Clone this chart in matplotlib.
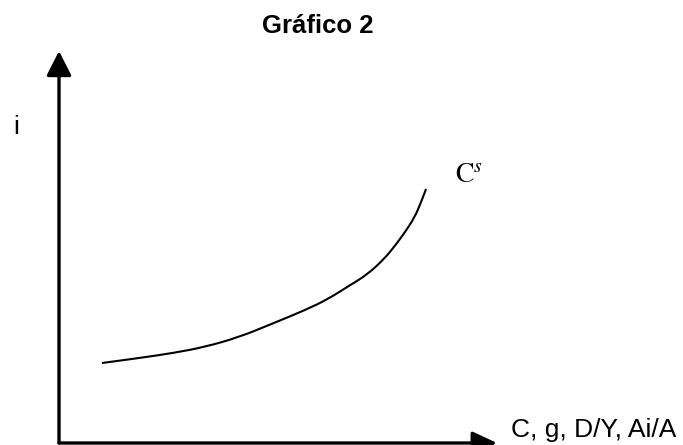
import matplotlib
matplotlib.use("Agg")
import matplotlib.pyplot as plt
from matplotlib.path import Path
from matplotlib.patches import PathPatch

plt.rcParams['font.family'] = ['Liberation Sans', 'DejaVu Sans']
plt.rcParams['mathtext.fontset'] = 'stix'

# Data (axis units 0-100)
title = "Gráfico 2"
y_label = "i"
x_label = "C, g, D/Y, Ai/A"
curve_label = r"$\mathrm{C}^{s}$"
curve_x = [9.8, 18.5, 26.3, 33.3, 41.1, 48.6, 56.2, 61.4, 66.2, 70.3, 74.2, 76.7, 79.0, 81.1, 82.6, 83.8]
curve_y = [20.4, 21.7, 23.0, 24.5, 27.0, 30.4, 33.9, 36.7, 40.1, 42.9, 46.9, 50.3, 53.8, 57.4, 61.2, 64.8]

W, H = 683, 445
fig = plt.figure(figsize=(W / 100, H / 100), dpi=100)
fig.patch.set_facecolor('white')

x0, y0, x1, y1 = 59, 443, 497, 51
ax = fig.add_axes([x0 / W, (H - y0) / H, (x1 - x0) / W, (y0 - y1) / H])
ax.set_xlim(0, 100)
ax.set_ylim(0, 100)
ax.axis('off')

# axes arrows
ax.annotate('', xy=(0, 100), xytext=(0, 0),
            arrowprops=dict(arrowstyle='-|>,head_length=0.75,head_width=0.38', lw=2.4,
                            color='black', shrinkA=0, shrinkB=0, mutation_scale=20),
            annotation_clip=False)
ax.annotate('', xy=(100, 0), xytext=(0, 0),
            arrowprops=dict(arrowstyle='-|>,head_length=0.75,head_width=0.35', lw=2.4,
                            color='black', shrinkA=0, shrinkB=0, mutation_scale=20),
            annotation_clip=False)

# smooth curve rendered by quadratic Bezier segments through the read points
pts = list(zip(curve_x, curve_y))
verts = [pts[0]]
codes = [Path.MOVETO]
for i in range(1, len(pts) - 1):
    mid = ((pts[i][0] + pts[i + 1][0]) / 2, (pts[i][1] + pts[i + 1][1]) / 2)
    if i == len(pts) - 2:
        mid = pts[-1]
    verts += [pts[i], mid]
    codes += [Path.CURVE3, Path.CURVE3]
ax.add_patch(PathPatch(Path(verts, codes), facecolor='none', edgecolor='black',
                       lw=1.5, clip_on=False))

fig.text(318 / W, 1 - 33 / H, title, ha='center', va='baseline',
         fontsize=18.5, fontweight='bold')
fig.text(16 / W, 1 - 134 / H, y_label, ha='center', va='baseline', fontsize=19)
fig.text(511 / W, 1 - 437 / H, x_label, ha='left', va='baseline', fontsize=19)
fig.text(455 / W, 1 - 182 / H, curve_label, ha='left', va='baseline', fontsize=20)

fig.savefig('out.png', dpi=100, facecolor='white')
